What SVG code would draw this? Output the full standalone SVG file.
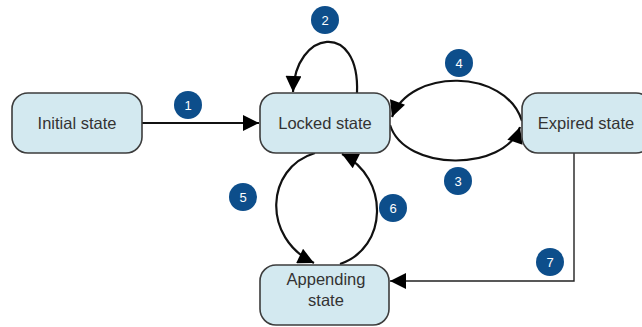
<svg xmlns="http://www.w3.org/2000/svg" width="642" height="327" viewBox="0 0 642 327">
<defs>
<style>
.box{fill:#d3e9f0;stroke:#3c3c3c;stroke-width:1.6}
.lbl{font-family:"Liberation Sans",Arial,sans-serif;font-size:16.5px;fill:#333;text-anchor:middle}
.edge{fill:none;stroke:#111;stroke-width:2.2}
.thin{fill:none;stroke:#222;stroke-width:1.4}
.badge circle{fill:#0d4e8b}
.badge text{font-family:"Liberation Sans",Arial,sans-serif;font-size:13px;fill:#fff;text-anchor:middle}
</style>
<marker id="ahl" viewBox="0 0 10 10" refX="10" refY="5" markerWidth="22" markerHeight="16" markerUnits="userSpaceOnUse" orient="auto">
<path d="M0,0 L10,5 L0,10 z" fill="#000"/>
</marker>
</defs>
<g id="connectors">
<path class="edge" d="M142,123 H259" marker-end="url(#ahl)"/>
<path class="edge" d="M357,93 C360,20 295,30 293,92" marker-end="url(#ahl)"/>
<path class="edge" d="M522,121 C505,68 410,68 392,117" marker-end="url(#ahl)"/>
<path class="edge" d="M390,125 C405,172 505,172 520,127" marker-end="url(#ahl)"/>
<path class="edge" d="M315,153 C265,168 262,238 314,263" marker-end="url(#ahl)"/>
<path class="edge" d="M340,264 C388,248 390,178 342,154" marker-end="url(#ahl)"/>
<path class="thin" d="M574,153 V281 H390" marker-end="url(#ahl)"/>
</g>
<g id="initial"><rect class="box" x="12" y="93" width="130" height="60" rx="16"/><text class="lbl" x="77" y="129">Initial state</text></g>
<g id="locked"><rect class="box" x="260" y="93" width="130" height="60" rx="16"/><text class="lbl" x="325" y="129">Locked state</text></g>
<g id="expired"><rect class="box" x="522" y="93" width="130" height="60" rx="16"/><text class="lbl" x="586" y="129">Expired state</text></g>
<g id="appending"><rect class="box" x="260" y="265" width="129" height="60" rx="16"/><text class="lbl" x="326" y="285">Appending</text><text class="lbl" x="326" y="306">state</text></g>
<g class="badge" id="b1"><circle cx="188" cy="105" r="14"/><text x="188" y="110">1</text></g>
<g class="badge" id="b2"><circle cx="325" cy="20" r="14"/><text x="325" y="25">2</text></g>
<g class="badge" id="b3"><circle cx="458" cy="181" r="14"/><text x="458" y="186">3</text></g>
<g class="badge" id="b4"><circle cx="459" cy="63" r="14"/><text x="459" y="68">4</text></g>
<g class="badge" id="b5"><circle cx="243" cy="197" r="14"/><text x="243" y="202">5</text></g>
<g class="badge" id="b6"><circle cx="393" cy="208" r="14"/><text x="393" y="213">6</text></g>
<g class="badge" id="b7"><circle cx="550" cy="262" r="14"/><text x="550" y="267">7</text></g>
</svg>
